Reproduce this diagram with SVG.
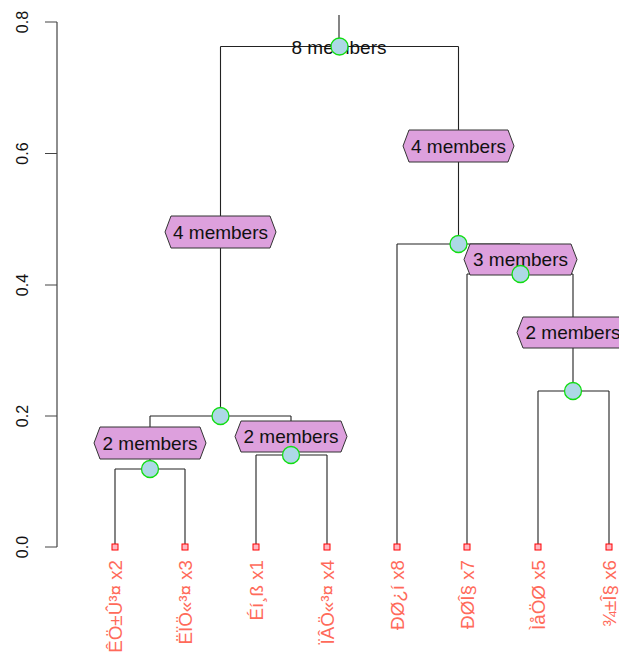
<svg xmlns="http://www.w3.org/2000/svg" width="619" height="658" viewBox="0 0 619 658">
<style>
.ln{stroke:#222;stroke-width:1.1;fill:none}
.ax{stroke:#444;stroke-width:1.2;fill:none}
.tick{font-family:"Liberation Sans",Arial,sans-serif;font-size:16px;fill:#111;text-anchor:middle}
.box{fill:#DDA0DD;stroke:#333;stroke-width:1}
.lbl{font-family:"Liberation Sans",Arial,sans-serif;font-size:19px;fill:#111;text-anchor:middle}
.nd{fill:#ADD8E6;stroke:#11dd11;stroke-width:1.3}
.leaf{fill:#FFB6C1;stroke:#FF0000;stroke-width:1}
.lf{font-family:"Liberation Sans",Arial,sans-serif;font-size:18.8px;fill:#FF6A5A;text-anchor:end}
</style>
<rect width="619" height="658" fill="#fff"/>
<g id="axis">
<path class="ax" d="M57,22V547M45,547H57M45,416H57M45,285H57M45,153.5H57M45,22H57"/>
<text class="tick" transform="translate(28,547) rotate(-90)">0.0</text>
<text class="tick" transform="translate(28,416) rotate(-90)">0.2</text>
<text class="tick" transform="translate(28,285) rotate(-90)">0.4</text>
<text class="tick" transform="translate(28,153.5) rotate(-90)">0.6</text>
<text class="tick" transform="translate(28,22) rotate(-90)">0.8</text>
</g>
<g id="connectors">
<path class="ln" d="M339,15V46.5M220.5,46.5H458.5"/>
<path class="ln" d="M220.5,46.5V416M150,416H291M150,416V469M291,416V455"/>
<path class="ln" d="M115,469H185M115,469V547M185,469V547"/>
<path class="ln" d="M256,455H327M256,455V547M327,455V547"/>
<path class="ln" d="M458.5,46.5V244M397,244H520M397,244V547M520,244V274"/>
<path class="ln" d="M467,274H573M467,274V547M573,274V391"/>
<path class="ln" d="M538,391H609M538,391V547M609,391V547"/>
</g>
<g id="leaves">
<g id="leaf-x2"><rect class="leaf" x="112" y="544" width="6" height="6"/><text class="lf" transform="translate(122,560) rotate(-90)">ÊÖ±Û³¤ x2</text></g>
<g id="leaf-x3"><rect class="leaf" x="182" y="544" width="6" height="6"/><text class="lf" transform="translate(192,560) rotate(-90)">ËÏÖ«³¤ x3</text></g>
<g id="leaf-x1"><rect class="leaf" x="253" y="544" width="6" height="6"/><text class="lf" transform="translate(263,560) rotate(-90)">Éí¸ß x1</text></g>
<g id="leaf-x4"><rect class="leaf" x="324" y="544" width="6" height="6"/><text class="lf" transform="translate(334,560) rotate(-90)">ÏÂÖ«³¤ x4</text></g>
<g id="leaf-x8"><rect class="leaf" x="394" y="544" width="6" height="6"/><text class="lf" transform="translate(404,560) rotate(-90)">ÐØ¿í x8</text></g>
<g id="leaf-x7"><rect class="leaf" x="464" y="544" width="6" height="6"/><text class="lf" transform="translate(474,560) rotate(-90)">ÐØÎ§ x7</text></g>
<g id="leaf-x5"><rect class="leaf" x="535" y="544" width="6" height="6"/><text class="lf" transform="translate(545,560) rotate(-90)">ÌåÖØ x5</text></g>
<g id="leaf-x6"><rect class="leaf" x="606" y="544" width="6" height="6"/><text class="lf" transform="translate(616,560) rotate(-90)">¾±Î§ x6</text></g>
</g>
<g id="labels">
<g id="label-8"><text class="lbl" x="339" y="53.5">8 members</text></g>
<g id="label-4L"><polygon class="box" points="165,232 171,216 270,216 276,232 270,248 171,248"/><text class="lbl" x="220.5" y="238.8">4 members</text></g>
<g id="label-4R"><polygon class="box" points="403,146 409,130 508,130 514,146 508,162 409,162"/><text class="lbl" x="458.5" y="152.8">4 members</text></g>
<g id="label-3"><polygon class="box" points="464,259.5 470,244 571,244 577,259.5 571,275 470,275"/><text class="lbl" x="520.5" y="266.3">3 members</text></g>
<g id="label-2R"><polygon class="box" points="517,332.5 523,317 623,317 629,332.5 623,348 523,348"/><text class="lbl" x="573" y="339.3">2 members</text></g>
<g id="label-2A"><polygon class="box" points="94,443 100,427 200,427 206,443 200,459 100,459"/><text class="lbl" x="150" y="449.8">2 members</text></g>
<g id="label-2B"><polygon class="box" points="235,436.5 241,421 341,421 347,436.5 341,452 241,452"/><text class="lbl" x="291" y="443.3">2 members</text></g>
</g>
<g id="nodes">
<circle id="n-root" class="nd" cx="339.5" cy="46.5" r="8.5"/>
<circle id="n-left" class="nd" cx="220.5" cy="416" r="8.5"/>
<circle id="n-23" class="nd" cx="150" cy="469" r="8.5"/>
<circle id="n-14" class="nd" cx="291" cy="455" r="8.5"/>
<circle id="n-right" class="nd" cx="458.5" cy="244" r="8.5"/>
<circle id="n-756" class="nd" cx="520.5" cy="274" r="8.5"/>
<circle id="n-56" class="nd" cx="573" cy="391" r="8.5"/>
</g>
</svg>
